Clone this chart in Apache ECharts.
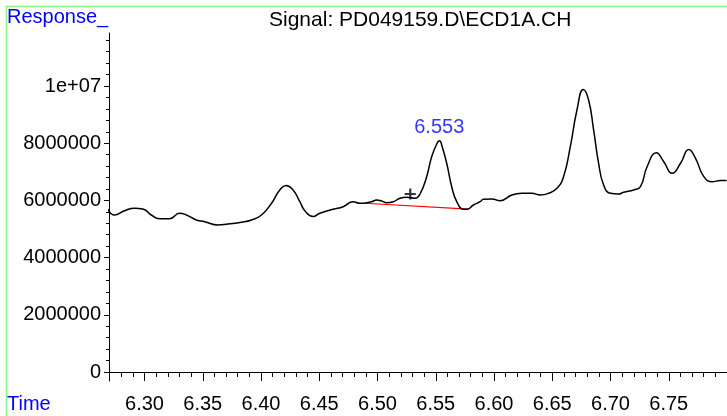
<!DOCTYPE html>
<html>
<head>
<meta charset="utf-8">
<script src="https://cdn.jsdelivr.net/npm/echarts@6/dist/echarts.min.js"></script>
<style>
  html, body { margin: 0; padding: 0; background: #fff; }
  #chart { width: 727px; height: 416px; }
</style>
</head>
<body>
<div id="chart"></div>
<script>
// retention time (min) and detector response
var times = [6.2684, 6.2742, 6.2828, 6.2914, 6.2985, 6.3058, 6.3129, 6.3215, 6.3301, 6.3359,
    6.3445, 6.3516, 6.3630, 6.3716, 6.3832, 6.3918, 6.4004, 6.4090, 6.4161, 6.4215,
    6.4275, 6.4333, 6.4376, 6.4447, 6.4505, 6.4619, 6.4705, 6.4791, 6.4849, 6.4949,
    6.4992, 6.5035, 6.5078, 6.5135, 6.5193, 6.5250, 6.5322, 6.5365, 6.5422, 6.5465,
    6.5514, 6.5534, 6.5551, 6.5594, 6.5637, 6.5680, 6.5737, 6.5766, 6.5823, 6.5881,
    6.5909, 6.5981, 6.6053, 6.6153, 6.6239, 6.6325, 6.6397, 6.6468, 6.6540, 6.6597,
    6.6655, 6.6712, 6.6766, 6.6812, 6.6855, 6.6898, 6.6941, 6.6999, 6.7070, 6.7113,
    6.7199, 6.7257, 6.7314, 6.7394, 6.7457, 6.7529, 6.7601, 6.7672, 6.7730, 6.7801,
    6.7873, 6.7944, 6.7996]
var response = [5700000, 5490000, 5640000, 5724000, 5699000, 5490000, 5360000, 5360000, 5549000, 5490000,
    5315000, 5255000, 5140000, 5175000, 5234000, 5315000, 5490000, 5899000, 6364000, 6521000,
    6364000, 5955000, 5640000, 5437000, 5549000, 5689000, 5780000, 5955000, 5899000, 5955000,
    6014000, 5979000, 5920000, 5955000, 6073000, 6108000, 6073000, 6224000, 6829000, 7528000,
    8017000, 8087000, 7937000, 7297000, 6479000, 5955000, 5689000, 5689000, 5839000, 5955000,
    6039000, 6049000, 5990000, 6189000, 6248000, 6248000, 6189000, 6248000, 6423000, 6829000,
    7878000, 9161000, 9878000, 9510000, 8462000, 7297000, 6538000, 6248000, 6224000, 6283000,
    6364000, 6479000, 7178000, 7668000, 7353000, 6948000, 7297000, 7780000, 7472000, 6829000,
    6654000, 6696000, 6696000]

// integration baseline of the labelled peak
var baseTimes = [6.489, 6.578]
var baseValues = [5900000, 5695000]

var peakTime = 6.553
var peakValue = 8087000
var markTime = 6.5281
var markValue = 6224000

var xLabels = [6.30, 6.35, 6.40, 6.45, 6.50, 6.55, 6.60, 6.65, 6.70, 6.75]
var xMajor = [6.30, 6.35, 6.40, 6.45, 6.50, 6.55, 6.60, 6.65, 6.70, 6.75, 6.80]
var yLabels = [0, 2000000, 4000000, 6000000, 8000000, 10000000]

var xMinor = []
for (var i = 627; i <= 680; i++) xMinor.push(i / 100)
var yMinor = []
for (var j = 0; j <= 29; j++) yMinor.push(j * 400000)

var font = 'Liberation Sans, Arial, sans-serif'

var chart = echarts.init(document.getElementById('chart'))

var option = {
    animation: false,
    backgroundColor: '#fff',
    title: {
        text: 'Signal: PD049159.D\\ECD1A.CH',
        left: 264,
        top: 5,
        textStyle: { fontFamily: font, fontSize: 21, fontWeight: 'normal', color: '#000' }
    },
    graphic: [
        {
            type: 'rect',
            shape: { x: 6.5, y: 6.5, width: 740, height: 430 },
            style: { fill: 'none', stroke: '#8cf08c', lineWidth: 1.5 },
            silent: true
        },
        {
            type: 'text', left: 7, top: 7,
            style: { text: 'Response_', fill: '#0000ff', font: '20px ' + font }
        },
        {
            type: 'text', left: 7, top: 394,
            style: { text: 'Time', fill: '#0000ff', font: '20px ' + font }
        }
    ],
    grid: { left: 109, right: 0, top: 33, bottom: 35 },
    xAxis: [
        {
            type: 'value',
            min: 6.2695,
            max: 6.80,
            position: 'bottom',
            axisLine: { lineStyle: { color: '#000', width: 1 } },
            axisTick: { customValues: xMajor, length: 9, lineStyle: { color: '#000' } },
            axisLabel: {
                customValues: xLabels,
                margin: 13,
                color: '#000',
                fontSize: 20,
                fontFamily: font,
                formatter: function (v) { return v.toFixed(2) }
            },
            splitLine: { show: false }
        },
        {
            type: 'value',
            min: 6.2695,
            max: 6.80,
            position: 'bottom',
            axisLine: { show: false },
            axisTick: { customValues: xMinor, length: 5, lineStyle: { color: '#000' } },
            axisLabel: { show: false },
            splitLine: { show: false }
        }
    ],
    yAxis: [
        {
            type: 'value',
            min: -315000,
            max: 11853000,
            position: 'left',
            axisLine: { show: true, lineStyle: { color: '#000', width: 1 } },
            axisTick: { customValues: yLabels, length: 5, lineStyle: { color: '#000' } },
            axisLabel: {
                customValues: yLabels,
                margin: 8,
                color: '#000',
                fontSize: 20,
                fontFamily: font,
                formatter: function (v) { return v === 10000000 ? '1e+07' : String(v) }
            },
            splitLine: { show: false }
        },
        {
            type: 'value',
            min: -315000,
            max: 11853000,
            position: 'left',
            axisLine: { show: false },
            axisTick: { customValues: yMinor, length: 3, lineStyle: { color: '#000' } },
            axisLabel: { show: false },
            splitLine: { show: false }
        }
    ],
    series: [
        {
            name: 'signal',
            type: 'line',
            data: times.map(function (t, i) { return [t, response[i]] }),
            showSymbol: false,
            smooth: 0.5,
            lineStyle: { color: '#000', width: 1.5 },
            z: 3
        },
        {
            name: 'baseline',
            type: 'line',
            data: baseTimes.map(function (t, i) { return [t, baseValues[i]] }),
            showSymbol: false,
            lineStyle: { color: '#ff0000', width: 1.2 },
            z: 2
        },
        {
            name: 'mark',
            type: 'scatter',
            data: [[markTime, markValue]],
            symbol: 'path://M4,0H6V4H10V6H6V10H4V6H0V4H4Z',
            symbolSize: 11,
            itemStyle: { color: '#000' },
            z: 4
        },
        {
            name: 'peak',
            type: 'scatter',
            data: [[peakTime, peakValue]],
            symbolSize: 0,
            label: {
                show: true,
                position: 'top',
                distance: 3,
                formatter: '6.553',
                color: '#0000ff',
                fontSize: 20,
                fontFamily: font
            },
            z: 5
        }
    ]
}

chart.setOption(option)
</script>
</body>
</html>
